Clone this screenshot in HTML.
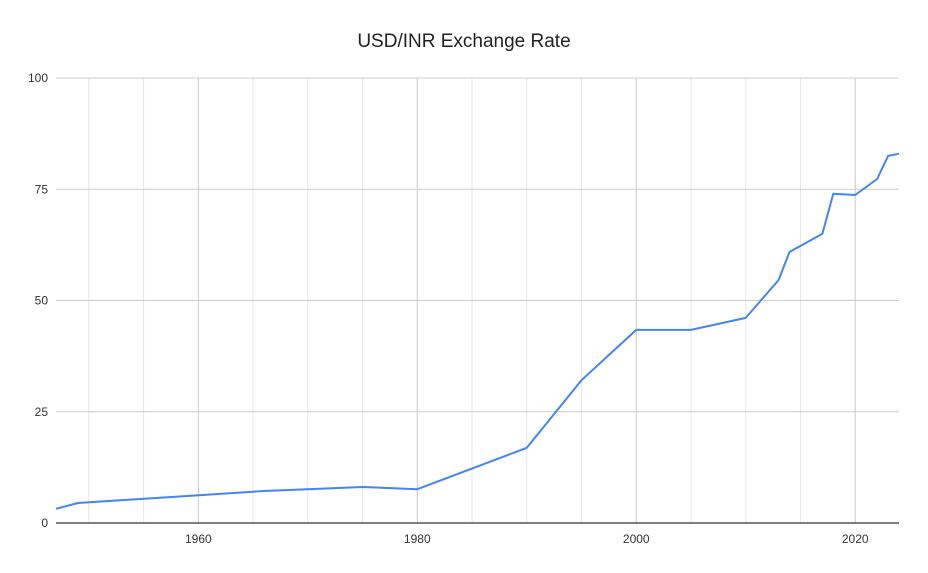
<!DOCTYPE html>
<html><head><meta charset="utf-8"><style>
body{margin:0;background:#fff;}
svg{display:block;font-family:"Liberation Sans",Arial,sans-serif;}
</style></head><body>
<svg id="chart" width="928" height="573">
<rect width="928" height="573" fill="#fff"/>
<text x="464" y="47" text-anchor="middle" font-size="19" fill="#222">USD/INR Exchange Rate</text>
<g id="grid"></g><g id="axes"></g><g id="series"></g>
</svg>
<script>
const years=[1947,1949,1966,1975,1980,1990,1995,2000,2005,2010,2013,2014,2017,2018,2020,2022,2023,2024];
const rates=[3.2,4.5,7.2,8.1,7.6,16.9,32.1,43.4,43.4,46.1,54.6,60.9,65.0,74.0,73.7,77.3,82.5,83.0];
const yTicks=[0,25,50,75,100];
const xTicks=[1960,1980,2000,2020];
const x0=56,x1=899,y0=523,y1=78,xMin=1947,xMax=2024,yMin=0,yMax=100;
const X=v=>x0+(v-xMin)/(xMax-xMin)*(x1-x0);
const Y=v=>y0-(v-yMin)/(yMax-yMin)*(y0-y1);
const NS='http://www.w3.org/2000/svg';
function mk(t,a,p){const e=document.createElementNS(NS,t);for(const k in a)e.setAttribute(k,a[k]);p.appendChild(e);return e;}
const grid=document.getElementById('grid'),axes=document.getElementById('axes'),ser=document.getElementById('series');
for(let yr=1950;yr<=2020;yr+=5){
  const major=yr%20===0;
  const l=mk('line',{x1:X(yr),x2:X(yr),y1:y1,y2:y0,stroke:major?'#c8c8c8':'#e6e6e6','stroke-width':1},grid);
  
  
}
yTicks.forEach(v=>{
  if(v>0){const l=mk('line',{x1:x0,x2:x1,y1:Y(v),y2:Y(v),stroke:'#cccccc','stroke-width':1},grid);
  
  }
  const t=mk('text',{x:48,y:Y(v)+4,'text-anchor':'end','font-size':12,fill:'#333'},axes);
  t.textContent=v;
  
  
});
xTicks.forEach(v=>{
  const t=mk('text',{x:X(v),y:543,'text-anchor':'middle','font-size':12,fill:'#333'},axes);
  t.textContent=v;
  
  
});
const ax=mk('line',{x1:x0,x2:x1,y1:y0,y2:y0,stroke:'#333','stroke-width':1.3},axes);


const pts=years.map((y,i)=>X(y).toFixed(1)+','+Y(rates[i]).toFixed(1)).join(' ');
const pl=mk('polyline',{points:pts,fill:'none',stroke:'#4285f4','stroke-width':2,'stroke-linejoin':'round'},ser);


</script>
</body></html>
